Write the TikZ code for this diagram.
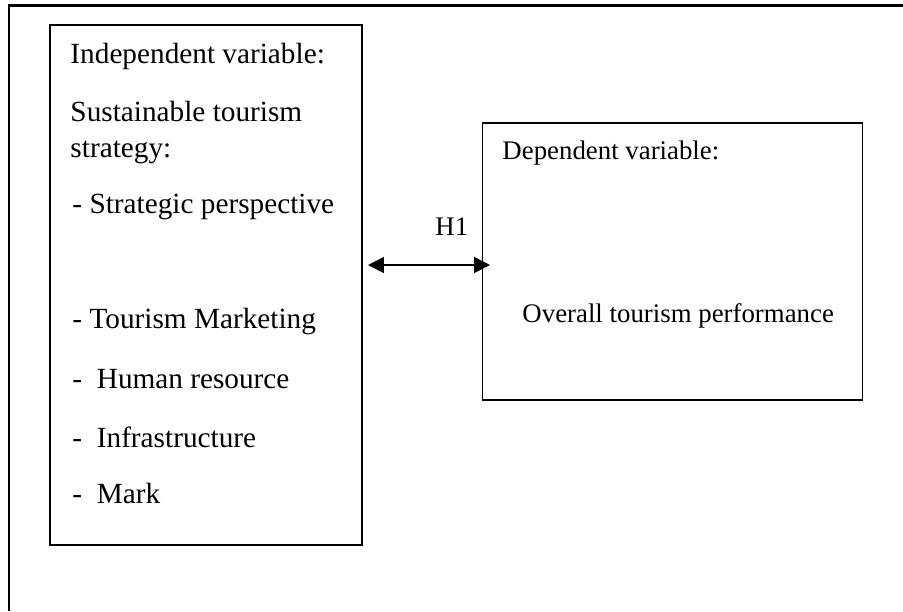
\documentclass[tikz,border=0pt]{standalone}
\usepackage{fontspec}
\setmainfont{Liberation Serif}
\usetikzlibrary{arrows.meta}

\tikzset{
	modelpicture/.style = {
		x = 0.41pt,
		y = -0.41pt,
		link/.style = {
			draw,
			line width = 0.7pt,
			{Triangle[length=6.5pt, width=6.5pt]}-{Triangle[length=6.5pt, width=6.5pt]},
		}
	},
	varbox/.style = {
		rectangle,
		draw = black,
		line width = 0.7pt,
		inner sep = 0pt,
		outer sep = 0pt
	},
	ivtext/.style = {
		anchor = base west,
		inner sep = 0pt,
		font = \fontsize{12}{14}\selectfont
	},
	dvtext/.style = {
		anchor = base west,
		inner sep = 0pt,
		font = \fontsize{11}{13}\selectfont
	},
	frameline/.style = {
		draw = black,
		line width = 1pt
	}
}

\begin{document}
\begin{tikzpicture}[modelpicture]
	\useasboundingbox (0,0) rectangle (903,611);
	\path[frameline] (903,5.5) -- (9,5.5) -- (9,611);

	% the two variable boxes
	\node[varbox, minimum width = 127.9pt, minimum height = 213.2pt] (indep) at (206,285) {};
	\node[varbox, minimum width = 155.8pt, minimum height = 113.6pt] (dep) at (672.5,261.5) {};

	% independent variable
	\node[ivtext] (ivhead) at (70,63) {Independent variable:};
	\node[ivtext] (ivname) at (70,121) {Sustainable tourism};
	\node[ivtext] (ivname2) at (70,157) {strategy:};
	\node[ivtext] (ivpersp) at (72,213) {- Strategic perspective};
	\node[ivtext] (ivmarket) at (72,328) {- Tourism Marketing};
	\node[ivtext] (ivhuman) at (72,388) {-\ \ Human resource};
	\node[ivtext] (ivinfra) at (72,447) {-\ \ Infrastructure};
	\node[ivtext] (ivmark) at (72,503) {-\ \ Mark};

	% dependent variable
	\node[dvtext] (dvhead) at (502,159) {Dependent variable:};
	\node[dvtext] (dvname) at (522,322) {Overall tourism performance};

	% hypothesis
	\coordinate (h1from) at (368,265);
	\coordinate (h1to) at (490,265);
	\node[dvtext] (h1) at (435,235) {H1};
	\path[link] (h1from) -- (h1to);
\end{tikzpicture}
\end{document}
